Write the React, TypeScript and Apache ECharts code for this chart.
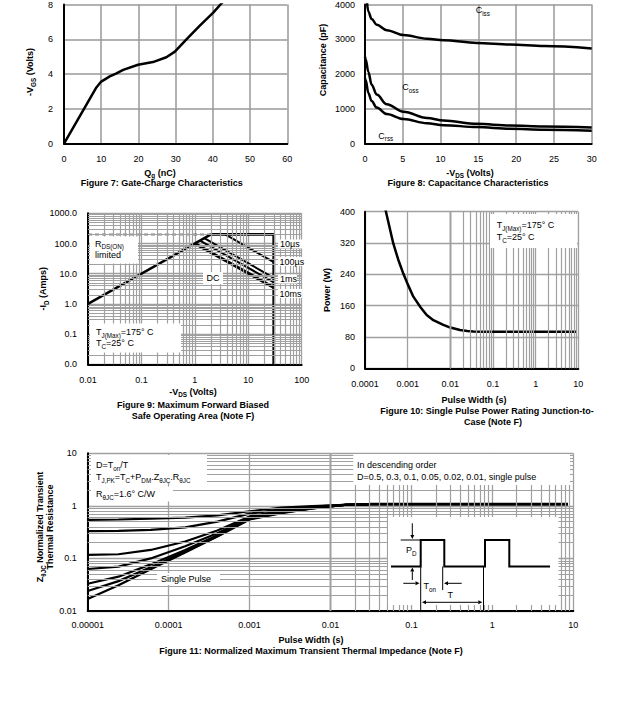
import React, { useEffect, useRef } from 'react';
import * as echarts from 'echarts';

const FONT = '"Liberation Sans", Arial, Helvetica, sans-serif';
const GRID = '#a0a0a0';

// ---------- Figure 7: Gate charge ----------
const gateChargeQ = [0, 8.7, 10, 12.3, 14.1, 15.9, 19.9, 23.9, 27.5, 29.8, 32.9, 36.5, 40.1, 42.3, 52];
const gateChargeV = [0, 3.23, 3.57, 3.87, 4.04, 4.24, 4.54, 4.69, 4.97, 5.29, 6.0, 6.79, 7.53, 8.06, 10.1];

// ---------- Figure 8: Capacitance ----------
const capVds = [0, 0.1, 0.44, 0.88, 1.55, 2.88, 5.1, 8.2, 10.4, 14.8, 19.2, 23.7, 30];
const capCiss = [4700, 4300, 3800, 3580, 3420, 3262, 3121, 3019, 2972, 2897, 2850, 2804, 2738];
const capCoss = [2500, 2420, 2065, 1692, 1411, 1131, 916, 738, 664, 570, 523, 495, 467];
const capCrss = [1880, 1820, 1458, 1224, 1037, 850, 710, 589, 533, 477, 430, 402, 374];

// ---------- Figure 9: SOA ----------
const soaRdsV = [0.01, 2];
const soaRdsI = [1, 200];
const soaLimitV = [0.01, 2];
const soaLimitI = [200, 200];
const soaEnvV = [2, 30, 30];
const soaEnvI = [200, 200, 0.01];
const soa10usV = [3.7, 30];
const soa10usI = [200, 24];
const soa100usV = [1.5, 30];
const soa100usI = [150, 7.3];
const soa1msV = [1.25, 30];
const soa1msI = [125, 5.2];
const soaDcV = [1.0, 30];
const soaDcI = [100, 3.5];

// ---------- Figure 10: Single pulse power ----------
const pulseT = [2.9e-4, 3.1e-4, 4.6e-4, 6e-4, 7.9e-4, 1e-3, 1.36e-3, 2e-3, 2.79e-3, 4e-3, 6.86e-3, 1e-2, 0.0169, 0.025, 0.0347, 0.06, 9.1];
const pulseP = [420, 400, 319, 278, 242, 215, 183, 156, 136, 123, 111, 104, 98, 95.5, 94, 93.5, 93.5];

// ---------- Figure 11: Transient thermal impedance ----------
const zthT = [1e-5, 2.4e-5, 6e-5, 1.6e-4, 4e-4, 1e-3, 2.5e-3, 6e-3, 0.015, 0.03];
const zthD05 = [0.54, 0.55, 0.57, 0.60, 0.66, 0.79, 0.93, 0.99, 1.05, 1.07];
const zthD03 = [0.33, 0.335, 0.35, 0.39, 0.50, 0.71, 0.87, 0.97, 1.05, 1.07];
const zthD01 = [0.117, 0.12, 0.145, 0.21, 0.34, 0.63, 0.81, 0.94, 1.04, 1.07];
const zthD005 = [0.063, 0.07, 0.1, 0.17, 0.3, 0.6, 0.78, 0.92, 1.04, 1.07];
const zthD002 = [0.033, 0.045, 0.077, 0.145, 0.275, 0.57, 0.75, 0.9, 1.04, 1.07];
const zthD001 = [0.024, 0.037, 0.068, 0.135, 0.265, 0.56, 0.74, 0.895, 1.04, 1.07];
const zthSingle = [0.017, 0.031, 0.062, 0.13, 0.26, 0.55, 0.73, 0.89, 1.04, 1.07];
const zthFlatT = [0.03, 8.6];
const zthFlatZ = [1.07, 1.07];

const pairs = (xs: number[], ys: number[]) => xs.map((x, i) => [x, ys[i]]);

const decadeMinors = (a: number, b: number) => {
  const out: number[] = [];
  for (let k = a; k < b; k++) for (let m = 2; m <= 9; m++) out.push(m * Math.pow(10, k));
  return out;
};

const logFmt = (v: number) => {
  const e = Math.round(Math.log10(v));
  return e < 0 ? Math.pow(10, e).toFixed(-e) : String(Math.round(Math.pow(10, e)));
};
const plainFmt = (v: number) => String(v);

const baseAxis = (extra: any, gridColor = GRID, gridWidth = 1.3) => ({
  axisLine: { show: true, onZero: false, lineStyle: { color: '#000', width: 2 } },
  axisTick: { show: false },
  splitLine: { show: true, lineStyle: { color: gridColor, width: gridWidth } },
  ...extra,
  axisLabel: { color: '#000', fontFamily: FONT, fontSize: 9, margin: 11, formatter: plainFmt, ...(extra.axisLabel || {}) },
});

const curve = (gi: number, data: number[][], width = 2.5, extra: any = {}) => ({
  type: 'line',
  xAxisIndex: gi,
  yAxisIndex: gi,
  data,
  symbol: 'none',
  showSymbol: false,
  silent: true,
  z: 3,
  lineStyle: { color: '#000', width },
  ...extra,
});

const minorGrid = (gi: number, anchor: number[], xs: number[], ys: number[]) => ({
  type: 'line',
  xAxisIndex: gi,
  yAxisIndex: gi,
  data: [anchor],
  symbol: 'none',
  showSymbol: false,
  silent: true,
  z: 1,
  lineStyle: { width: 0 },
  markLine: {
    silent: true,
    symbol: ['none', 'none'],
    label: { show: false },
    animation: false,
    lineStyle: { color: GRID, width: 1.2, type: 'solid' },
    emphasis: { disabled: true },
    data: [...xs.map((v) => ({ xAxis: v })), ...ys.map((v) => ({ yAxis: v }))],
  },
});

// rich text helper: "V_{GS}" -> subscript
const rt = (s: string) =>
  s
    .split(/(_\{[^}]*\})/)
    .filter((p) => p.length > 0)
    .map((p) => (p.startsWith('_{') ? `{s|${p.slice(2, -1)}}` : `{a|${p}}`))
    .join('');

const T = (x: number, y: number, s: string, o: any = {}) => {
  const size = o.size ?? 9;
  const w = o.bold ? 'bold' : 'normal';
  return {
    type: 'text',
    x,
    y,
    rotation: o.rot ?? 0,
    z: 100,
    silent: true,
    style: {
      text: rt(s),
      align: o.align ?? 'left',
      verticalAlign: 'middle',
      fill: '#000',
      rich: {
        a: { fontSize: size, fontFamily: FONT, fontWeight: w, fill: '#000', lineHeight: 12, verticalAlign: 'middle' },
        s: { fontSize: size * 0.7, fontFamily: FONT, fontWeight: w, fill: '#000', lineHeight: 6, verticalAlign: 'bottom' },
      },
    },
  };
};

const W = (x: number, y: number, w: number, h: number) => ({
  type: 'rect',
  shape: { x, y, width: w, height: h },
  style: { fill: '#fff' },
  z: 90,
  silent: true,
});

const L = (x1: number, y1: number, x2: number, y2: number, w = 1) => ({
  type: 'line',
  shape: { x1, y1, x2, y2 },
  style: { stroke: '#000', lineWidth: w },
  z: 100,
  silent: true,
});

const A = (x1: number, y1: number, x2: number, y2: number) => {
  const dx = x2 - x1;
  const dy = y2 - y1;
  const len = Math.hypot(dx, dy);
  const ux = dx / len;
  const uy = dy / len;
  const h = 4;
  const hw = 2;
  const bx = x2 - ux * h;
  const by = y2 - uy * h;
  return [
    L(x1, y1, bx, by, 1),
    {
      type: 'polygon',
      shape: { points: [[x2, y2], [bx - uy * hw, by + ux * hw], [bx + uy * hw, by - ux * hw]] },
      style: { fill: '#000' },
      z: 100,
      silent: true,
    },
  ];
};

const HP = Math.PI / 2;

const buildOption = () => {
  const smooth = { smooth: 0.35, smoothMonotone: 'x' };
  const graphics: any[] = [
    // Figure 7
    T(30, 72, '-V_{GS} (Volts)', { bold: true, align: 'center', rot: HP }),
    T(160, 172.7, 'Q_{g} (nC)', { bold: true, align: 'center' }),
    T(161.7, 183, 'Figure 7: Gate-Charge Characteristics', { bold: true, align: 'center' }),
    // Figure 8
    T(323.3, 60, 'Capacitance (pF)', { bold: true, align: 'center', rot: HP }),
    T(470, 172.7, '-V_{DS} (Volts)', { bold: true, align: 'center' }),
    T(468, 183, 'Figure 8: Capacitance Characteristics', { bold: true, align: 'center' }),
    T(475.7, 10, 'C_{iss}'),
    T(402.3, 87, 'C_{oss}'),
    T(378.3, 135.7, 'C_{rss}'),
    // Figure 9
    T(43, 288.8, '-I_{D} (Amps)', { bold: true, align: 'center', rot: HP }),
    T(193, 391.7, '-V_{DS} (Volts)', { bold: true, align: 'center' }),
    T(193, 405, 'Figure 9: Maximum Forward Biased', { bold: true, align: 'center' }),
    T(193, 416, 'Safe Operating Area (Note F)', { bold: true, align: 'center' }),
    W(90, 236.5, 48, 27),
    T(95, 243.5, 'R_{DS(ON)}'),
    T(95, 254.5, 'limited'),
    W(90, 323.5, 91, 29),
    T(96, 332.3, 'T_{J(Max)}=175° C'),
    T(96, 343.3, 'T_{C}=25° C'),
    W(203, 272, 20, 12),
    T(206.5, 277.7, 'DC'),
    W(278, 239.5, 25, 9),
    T(280, 243.5, '10µs'),
    W(278, 257, 26, 9),
    T(279.5, 261.5, '100µs'),
    W(278, 274.5, 19, 9),
    T(280, 279, '1ms'),
    W(278, 289, 24, 9),
    T(279.5, 293.5, '10ms'),
    // Figure 10
    T(326.7, 290, 'Power (W)', { bold: true, align: 'center', rot: HP }),
    T(474, 400, 'Pulse Width (s)', { bold: true, align: 'center' }),
    T(487, 411, 'Figure 10: Single Pulse Power Rating Junction-to-', { bold: true, align: 'center' }),
    T(493, 422, 'Case (Note F)', { bold: true, align: 'center' }),
    W(490, 214, 87, 34),
    T(496.7, 225, 'T_{J(Max)}=175° C'),
    T(496.7, 237.3, 'T_{C}=25° C'),
    // Figure 11
    T(40, 527, 'Z_{θJC} Normalized Transient', { bold: true, align: 'center', rot: HP }),
    T(50, 527, 'Thermal Resistance', { bold: true, align: 'center', rot: HP }),
    T(311, 640, 'Pulse Width (s)', { bold: true, align: 'center' }),
    T(311, 651, 'Figure 11: Normalized Maximum Transient Thermal Impedance (Note F)', { bold: true, align: 'center' }),
    W(91, 455, 116, 28),
    W(91, 486.5, 82, 15),
    T(96, 465, 'D=T_{on}/T'),
    T(96, 477, 'T_{J,PK}=T_{C}+P_{DM}.Z_{θJC}.R_{θJC}'),
    T(96, 494, 'R_{θJC}=1.6° C/W'),
    W(353.3, 454, 216.7, 31),
    T(357, 465, 'In descending order'),
    T(357, 476.5, 'D=0.5, 0.3, 0.1, 0.05, 0.02, 0.01, single pulse'),
    W(157, 573, 63, 12),
    T(161, 579, 'Single Pulse'),
    // inset
    W(388, 517, 170.5, 88),
    {
      type: 'polyline',
      shape: {
        points: [
          [391, 566.5], [420.7, 566.5], [420.7, 540], [444.3, 540], [444.3, 566.5], [485, 566.5],
          [485, 540], [509.3, 540], [509.3, 566.5], [550, 566.5],
        ],
      },
      style: { stroke: '#000', lineWidth: 2, fill: null },
      z: 100,
      silent: true,
    },
    L(400.7, 540, 420.7, 540, 1),
    ...A(412.3, 523.3, 412.3, 539),
    ...A(412.3, 580, 412.3, 567.5),
    T(406, 550, 'P_{D}'),
    L(420.7, 566.5, 420.7, 610, 1),
    L(442.7, 566.5, 442.7, 590, 1),
    L(483.5, 566.5, 483.5, 610, 1),
    ...A(403.3, 583.3, 419.5, 583.3),
    ...A(461.7, 583.3, 444, 583.3),
    T(423.5, 586, 'T_{on}'),
    ...A(452, 602.3, 422, 602.3),
    ...A(452, 602.3, 482.3, 602.3),
    T(447.5, 595, 'T'),
  ];

  return {
    animation: false,
    backgroundColor: '#fff',
    textStyle: { fontFamily: FONT },
    grid: [
      { left: 64, top: 1, width: 223.3, height: 142.7 },
      { left: 365, top: 1, width: 226.7, height: 142.7 },
      { left: 88, top: 213.3, width: 213.7, height: 151 },
      { left: 365, top: 211.7, width: 213.3, height: 156.6 },
      { left: 87.7, top: 453.3, width: 485.6, height: 157.7 },
    ],
    xAxis: [
      baseAxis({ type: 'value', gridIndex: 0, min: 0, max: 60, interval: 10 }, '#999', 1.5),
      baseAxis({ type: 'value', gridIndex: 1, min: 0, max: 30, interval: 5 }, '#999', 1.5),
      baseAxis({ type: 'log', logBase: 10, gridIndex: 2, min: 0.01, max: 100, axisLabel: { formatter: logFmt } }),
      baseAxis({ type: 'log', logBase: 10, gridIndex: 3, min: 0.0001, max: 10, axisLabel: { formatter: logFmt } }),
      baseAxis({ type: 'log', logBase: 10, gridIndex: 4, min: 0.00001, max: 10, axisLabel: { formatter: logFmt, margin: 9 } }),
    ],
    yAxis: [
      baseAxis({ type: 'value', gridIndex: 0, min: 0, max: 8, interval: 2 }, '#999', 1.5),
      baseAxis({ type: 'value', gridIndex: 1, min: 0, max: 4000, interval: 1000, axisLabel: { margin: 10 } }, '#999', 1.5),
      baseAxis({
        type: 'log',
        logBase: 10,
        gridIndex: 2,
        min: 0.01,
        max: 1000,
        axisLabel: { formatter: (v: number) => v.toFixed(1) },
      }),
      baseAxis({ type: 'value', gridIndex: 3, min: 0, max: 400, interval: 80, axisLabel: { margin: 10 } }),
      baseAxis({ type: 'log', logBase: 10, gridIndex: 4, min: 0.01, max: 10, axisLabel: { formatter: logFmt } }),
    ],
    series: [
      // Fig 7
      curve(0, pairs(gateChargeQ, gateChargeV), 2.5),
      // Fig 8
      curve(1, pairs(capVds, capCiss), 2.5, smooth),
      curve(1, pairs(capVds, capCoss), 2.5, smooth),
      curve(1, pairs(capVds, capCrss), 2.5, smooth),
      // Fig 9
      minorGrid(2, [0.01, 0.01], decadeMinors(-2, 2), decadeMinors(-2, 3)),
      curve(2, pairs(soaLimitV, soaLimitI), 1.5, { lineStyle: { color: '#000', width: 1.5, type: [4, 3] } }),
      curve(2, pairs(soaRdsV, soaRdsI), 2.5),
      curve(2, pairs(soaEnvV, soaEnvI), 2.8),
      curve(2, pairs(soa10usV, soa10usI), 2),
      curve(2, pairs(soa100usV, soa100usI), 2),
      curve(2, pairs(soa1msV, soa1msI), 2),
      curve(2, pairs(soaDcV, soaDcI), 3),
      // Fig 10
      minorGrid(3, [0.0001, 0], decadeMinors(-4, 1), []),
      curve(3, pairs(pulseT, pulseP), 2.5),
      // Fig 11
      minorGrid(4, [0.00001, 0.01], decadeMinors(-5, 1), decadeMinors(-2, 1)),
      curve(4, pairs(zthT, zthD05), 2.2),
      curve(4, pairs(zthT, zthD03), 2.2),
      curve(4, pairs(zthT, zthD01), 2.2),
      curve(4, pairs(zthT, zthD005), 2.2),
      curve(4, pairs(zthT, zthD002), 2.2),
      curve(4, pairs(zthT, zthD001), 2.2),
      curve(4, pairs(zthT, zthSingle), 2.2),
      curve(4, pairs(zthFlatT, zthFlatZ), 3),
    ],
    graphic: { elements: graphics },
  };
};

export default function App() {
  const ref = useRef<HTMLDivElement>(null);
  useEffect(() => {
    if (!ref.current) return;
    const chart = echarts.init(ref.current, undefined, { renderer: 'svg' });
    chart.setOption(buildOption() as any);
    return () => {
      chart.dispose();
    };
  }, []);
  return (
    <div
      ref={ref}
      style={{ position: 'absolute', left: 0, top: 0, width: 623, height: 706, background: '#fff' }}
    />
  );
}
